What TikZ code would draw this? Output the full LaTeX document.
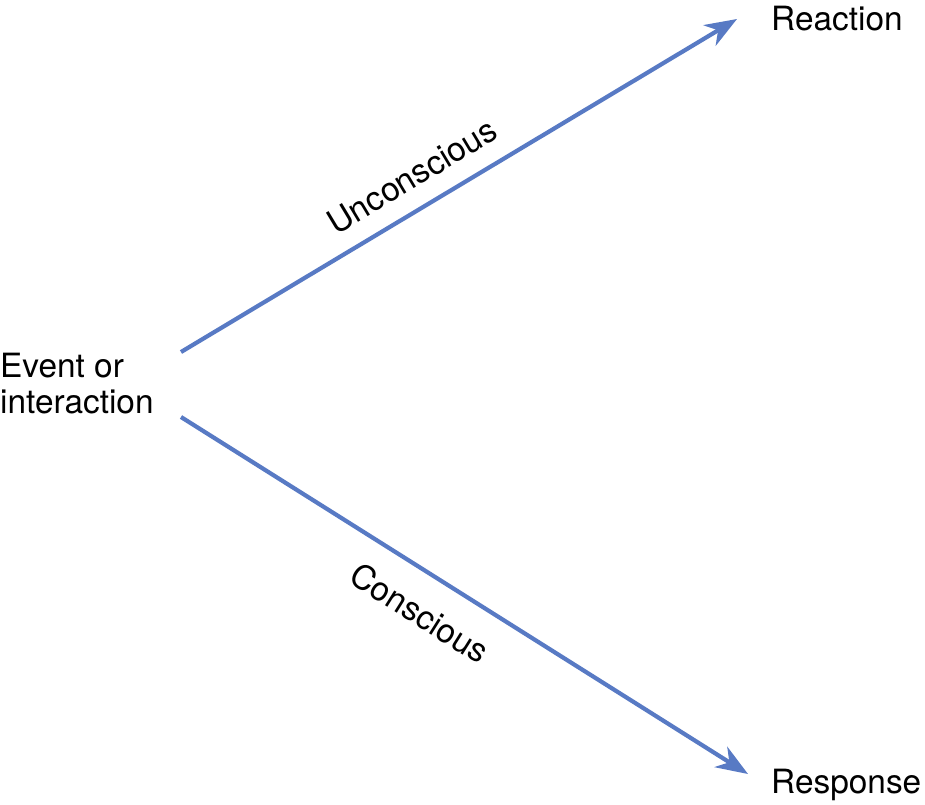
\documentclass[tikz,border=0pt]{standalone}
\usepackage{fontspec}
\setmainfont{TeX Gyre Heros}
\usepackage{xcolor}
\usetikzlibrary{arrows, arrows.meta}
\definecolor{arrowblue}{RGB}{88,122,196}

\begin{document}
\begin{tikzpicture}[x=1pt,y=-1pt,
  lbl/.style={inner sep=0pt, font=\fontsize{33.4}{36}\selectfont},
  link/.style={arrowblue, line width=4.2pt, -{Stealth[length=32pt,width=24pt,inset=10pt]}}]
\useasboundingbox (0,0) rectangle (925,804);

\node[lbl, anchor=west, align=left] (event) at (0,384) {Event or\\interaction};
\node[lbl, anchor=base west] (reaction) at (771,30) {Reaction};
\node[lbl, anchor=base west] (response) at (771,793) {Response};

\coordinate (upstart) at (181,352);
\coordinate (upend) at (737,19);
\coordinate (lowstart) at (181,417);
\coordinate (lowend) at (748,774);

\draw[link] (upstart) -- (upend);
\draw[link] (lowstart) -- (lowend);

\node[lbl, rotate=31] (unconscious) at (412,176) {Unconscious};
\node[lbl, rotate=-32.2] (conscious) at (420,613) {Conscious};
\end{tikzpicture}
\end{document}
